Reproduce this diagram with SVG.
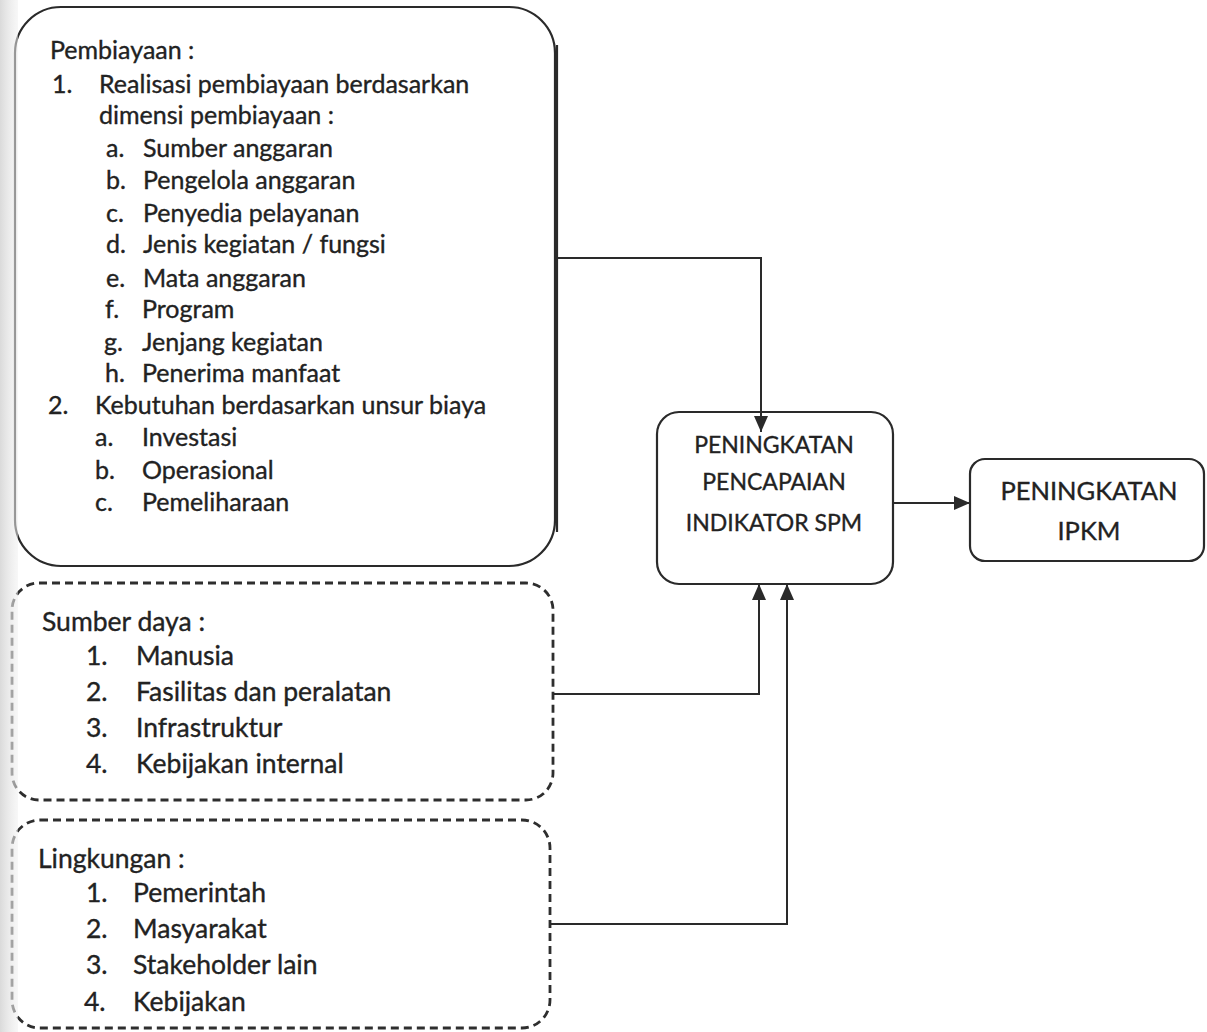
<svg xmlns="http://www.w3.org/2000/svg" width="1207" height="1032" viewBox="0 0 1207 1032">
  <defs>
    <style>
      .t { font-family: Lato, "Open Sans", "Liberation Sans", sans-serif; fill: #222; stroke: #222; stroke-width: 0.35; }
      .l { font-size: 25px; }
      .m { font-size: 26.5px; }
      .c { font-size: 23px; text-anchor: middle; }
      .c2 { font-size: 25.5px; text-anchor: middle; }
      .box { fill: none; stroke: #2a2a2a; stroke-width: 2.2; }
      .dash { fill: none; stroke: #2e2e2e; stroke-width: 2.8; stroke-dasharray: 8 5; }
      .con { fill: none; stroke: #2a2a2a; stroke-width: 2; }
    </style>
    <marker id="ah2" viewBox="0 0 16 14" refX="16" refY="7" markerWidth="16" markerHeight="14" markerUnits="userSpaceOnUse" orient="auto">
      <path d="M0,0 L16,7 L0,14 z" fill="#2a2a2a"/>
    </marker>
    <linearGradient id="band" x1="0" y1="0" x2="1" y2="0">
      <stop offset="0" stop-color="#d6d6d6" stop-opacity="0.9"/>
      <stop offset="1" stop-color="#f0f0f0" stop-opacity="0.5"/>
    </linearGradient>
  </defs>
  <rect width="1207" height="1032" fill="#ffffff"/>

  <g id="pembiayaan">
    <rect class="box" x="15" y="7" width="540" height="559" rx="46" ry="46"/>
    <line x1="557" y1="45" x2="557" y2="532" stroke="#2a2a2a" stroke-width="2.2"/>
    <text class="t l" x="50" y="59">Pembiayaan :</text>
    <text class="t l" x="52" y="93">1.</text>
    <text class="t l" x="99" y="93">Realisasi pembiayaan berdasarkan</text>
    <text class="t l" x="99" y="124">dimensi pembiayaan :</text>
    <text class="t l" x="106" y="157">a.</text>
    <text class="t l" x="143" y="157">Sumber anggaran</text>
    <text class="t l" x="106" y="189">b.</text>
    <text class="t l" x="143" y="189">Pengelola anggaran</text>
    <text class="t l" x="106" y="222">c.</text>
    <text class="t l" x="143" y="222">Penyedia pelayanan</text>
    <text class="t l" x="106" y="253">d.</text>
    <text class="t l" x="143" y="253">Jenis kegiatan / fungsi</text>
    <text class="t l" x="106" y="287">e.</text>
    <text class="t l" x="143" y="287">Mata anggaran</text>
    <text class="t l" x="105" y="318">f.</text>
    <text class="t l" x="142" y="318">Program</text>
    <text class="t l" x="104" y="351">g.</text>
    <text class="t l" x="142" y="351">Jenjang kegiatan</text>
    <text class="t l" x="105" y="382">h.</text>
    <text class="t l" x="142" y="382">Penerima manfaat</text>
    <text class="t l" x="48" y="414">2.</text>
    <text class="t l" x="95" y="414">Kebutuhan berdasarkan unsur biaya</text>
    <text class="t l" x="95" y="446">a.</text>
    <text class="t l" x="142" y="446">Investasi</text>
    <text class="t l" x="95" y="479">b.</text>
    <text class="t l" x="142" y="479">Operasional</text>
    <text class="t l" x="95" y="511">c.</text>
    <text class="t l" x="142" y="511">Pemeliharaan</text>
  </g>

  <g id="sumber-daya">
    <rect class="dash" x="12" y="583" width="541" height="217" rx="27" ry="27"/>
    <text class="t m" x="42" y="631">Sumber daya :</text>
    <text class="t m" x="86" y="665">1.</text>
    <text class="t m" x="136" y="665">Manusia</text>
    <text class="t m" x="86" y="701">2.</text>
    <text class="t m" x="136" y="701">Fasilitas dan peralatan</text>
    <text class="t m" x="86" y="737">3.</text>
    <text class="t m" x="136" y="737">Infrastruktur</text>
    <text class="t m" x="86" y="773">4.</text>
    <text class="t m" x="136" y="773">Kebijakan internal</text>
  </g>

  <g id="lingkungan">
    <rect class="dash" x="12" y="820" width="538" height="208" rx="28" ry="28"/>
    <text class="t m" x="38" y="868">Lingkungan :</text>
    <text class="t m" x="86" y="902">1.</text>
    <text class="t m" x="133" y="902">Pemerintah</text>
    <text class="t m" x="86" y="938">2.</text>
    <text class="t m" x="133" y="938">Masyarakat</text>
    <text class="t m" x="86" y="974">3.</text>
    <text class="t m" x="133" y="974">Stakeholder lain</text>
    <text class="t m" x="84" y="1011">4.</text>
    <text class="t m" x="133" y="1011">Kebijakan</text>
  </g>

  <g id="spm">
    <rect class="box" x="657" y="412" width="236" height="172" rx="22" ry="22"/>
    <text class="t c" x="774" y="453">PENINGKATAN</text>
    <text class="t c" x="774" y="490">PENCAPAIAN</text>
    <text class="t c" x="774" y="531">INDIKATOR SPM</text>
  </g>

  <g id="ipkm">
    <rect class="box" x="970" y="459" width="234" height="102" rx="15" ry="15"/>
    <text class="t c2" x="1089" y="500">PENINGKATAN</text>
    <text class="t c2" x="1089" y="540">IPKM</text>
  </g>

  <g id="connectors">
    <path class="con" d="M557,258 H761 V432" marker-end="url(#ah2)"/>
    <path class="con" d="M553,694 H759 V584" marker-end="url(#ah2)"/>
    <path class="con" d="M550,924 H787 V584" marker-end="url(#ah2)"/>
    <path class="con" d="M893,503 H970" marker-end="url(#ah2)"/>
  </g>

  <rect x="0" y="0" width="18" height="1032" fill="url(#band)"/>
</svg>
